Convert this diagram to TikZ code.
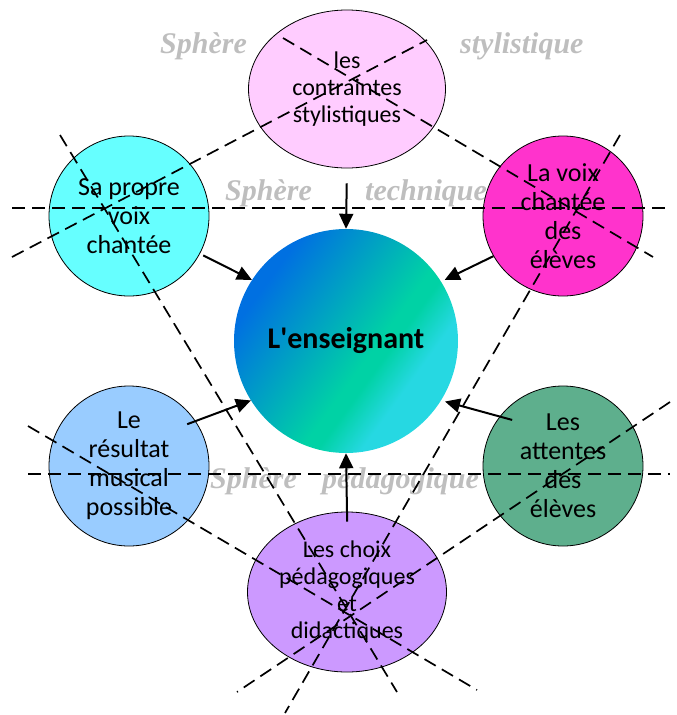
\documentclass[tikz,border=0pt]{standalone}
\usepackage{fontspec}
\setmainfont{Carlito}
\newfontfamily\grayserif{Liberation Serif}
\usetikzlibrary{shapes.geometric,arrows.meta}
\definecolor{cpink}{HTML}{FFCCFF}
\definecolor{ccyan}{HTML}{66FFFF}
\definecolor{cmag}{HTML}{FF33CC}
\definecolor{clblue}{HTML}{99CCFF}
\definecolor{cgreen}{RGB}{94,175,141}
\definecolor{cpurple}{HTML}{CC99FF}
\definecolor{sphgray}{RGB}{190,190,190}
\definecolor{gblue}{RGB}{0,112,225}
\definecolor{gmid}{RGB}{0,210,165}
\definecolor{gcyan}{RGB}{38,216,226}
\pgfdeclareverticalshading{ensg}{100bp}{color(0bp)=(gcyan); color(33bp)=(gcyan); color(41bp)=(gmid); color(44bp)=(gmid); color(72bp)=(gblue); color(100bp)=(gblue)}
\newcommand\straightq{\XeTeXglyph\the\XeTeXcharglyph"0027\relax}
\begin{document}
\begin{tikzpicture}[x=1pt,y=-1pt,
  bubble/.style={circle,draw=black,line width=0.8pt,minimum size=160pt,inner sep=0pt},
  oval/.style={ellipse,draw=black,line width=0.8pt,inner sep=0pt},
  txt/.style={align=center,inner sep=0pt,font=\fontsize{26}{29}\selectfont},
  txtb/.style={align=center,inner sep=0pt,font=\fontsize{24}{27}\selectfont},
  sphere/.style={anchor=base west,inner sep=0pt,text=sphgray,font=\grayserif\fontsize{30}{32}\selectfont\bfseries\itshape},
  sep/.style={dash pattern=on 13pt off 7pt,line width=1.7pt},
  arr/.style={line width=2pt,-{Triangle[length=15pt,width=14pt]}}]
\useasboundingbox (0,0) rectangle (677,715);
% sphere labels (behind)
\node[sphere] (s1) at (160,53) {Sphère};
\node[sphere] (s2) at (460,53) {stylistique};
\node[sphere] (s3) at (225,200) {Sphère};
\node[sphere] (s4) at (365,200) {technique};
\node[sphere] (s5) at (210,488) {Sphère};
\node[sphere] (s6) at (322,488) {pédagogique};
% shapes
\node[oval,fill=cpink,minimum width=197pt,minimum height=158pt] (pink) at (347,89) {};
\node[bubble,fill=ccyan] (cyan) at (129,216) {};
\node[bubble,fill=cmag] (mag) at (563,216) {};
\node[bubble,fill=clblue] (lblue) at (129,466) {};
\node[bubble,fill=cgreen] (green) at (563,466) {};
\node[oval,fill=cpurple,minimum width=199pt,minimum height=160pt] (purple) at (347,592) {};
\node[circle,minimum size=224pt,inner sep=0pt,shading=ensg,shading angle=54,
  font=\fontsize{30}{32}\selectfont\bfseries] (center) at (346,341) {L\straightq enseignant};
% separating lines
\coordinate (h1a) at (12,208); \coordinate (h1b) at (672,208);
\coordinate (h2a) at (28,474); \coordinate (h2b) at (670,474);
\coordinate (d1a) at (12,257); \coordinate (d1b) at (427,40);
\coordinate (d2a) at (283,38); \coordinate (d2b) at (653,257);
\coordinate (d3a) at (60,135); \coordinate (d3b) at (397,692);
\coordinate (d4a) at (620,135); \coordinate (d4b) at (285,713);
\coordinate (d5a) at (28,426); \coordinate (d5b) at (477,690);
\coordinate (d6a) at (670,402); \coordinate (d6b) at (237,692);
\foreach \p in {h1,h2,d1,d2,d3,d4,d5,d6}{\draw[sep] (\p a) -- (\p b);}
% texts
\node[txtb] (pinkt) at (pink) {les\\contraintes\\stylistiques};
\node[txt] (cyant) at (cyan) {Sa propre\\voix\\chantée};
\node[txt] (magt) at (mag) {La voix\\chantée\\des\\élèves};
\node[txt] (lbluet) at (lblue) {Le\\résultat\\musical\\possible};
\node[txt] (greent) at (green) {Les\\attentes\\des\\élèves};
\node[txtb] (purplet) at (purple) {Les choix\\pédagogiques\\et\\didactiques};
% arrows
\draw[arr,shorten <=15pt] (pink.south) -- (center.north);
\draw[arr,shorten <=3.6pt] (cyan.-28) -- (center.147);
\draw[arr,shorten >=4pt] (mag.210) -- (center.32);
\draw[arr,shorten <=-9pt] (lblue.34) -- (center.212);
\draw[arr,shorten <=-13pt,shorten >=4pt] (green.142) -- (center.-32);
\draw[arr,shorten <=-10pt] (purple.north) -- (center.south);
\end{tikzpicture}
\end{document}
